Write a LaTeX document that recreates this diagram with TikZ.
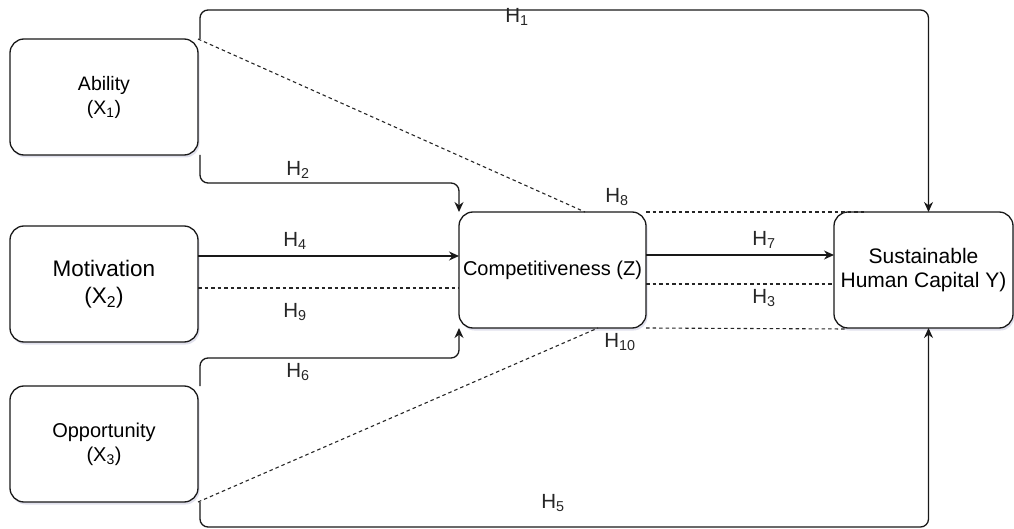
\documentclass[tikz,border=0pt]{standalone}
\usepackage{fontspec}
\setmainfont{Liberation Sans}
\usetikzlibrary{calc,arrows.meta,shadows}
\begin{document}
\begin{tikzpicture}[x=1pt,y=-1pt,
  box/.style={draw=black!90, line width=1.3pt, rounded corners=14pt, fill=white,
    minimum width=188pt, minimum height=116pt, inner sep=0pt, outer sep=0pt,
    align=center, drop shadow={opacity=0.12, shadow xshift=1.5pt, shadow yshift=-2.5pt, fill=blue!40!black}},
  arr/.style={draw=black!90, line width=1.3pt, -{Stealth[length=10pt,width=9pt]}},
  conn/.style={draw=black!90, line width=1.3pt, rounded corners=8pt},
  dsh/.style={draw=black!85, line width=1.1pt, dash pattern=on 3.5pt off 3pt},
  hlab/.style={font=\fontsize{20.5}{22}\selectfont, inner sep=0pt, text=black!85}
]
\useasboundingbox (0,0) rectangle (1014,529);

\node[box, font=\fontsize{19.5}{24}\selectfont] (A) at (104,97) {Ability\\(X\textsubscript{1})};
\node[box, font=\fontsize{22.5}{27}\selectfont] (M) at (104,284) {Motivation\\(X\textsubscript{2})};
\node[box, font=\fontsize{20}{24}\selectfont] (O) at (104,444) {Opportunity\\(X\textsubscript{3})};
\node[box, minimum width=187pt, font=\fontsize{20}{24}\selectfont] (C) at (552.5,270) {Competitiveness (Z)};
\node[box, minimum width=179pt, font=\fontsize{21}{24.5}\selectfont] (S) at (923.5,270) {Sustainable\\Human Capital Y)};

% dashed connectors
\coordinate (c8) at (585,212);
\coordinate (e8) at (867,212);
\coordinate (c10) at (598,328);
\coordinate (e10) at (847,329);
\draw[dsh] (A.north east) -- (c8);
\draw[dsh] (C.north east) -- (e8);
\draw[dsh] (O.south east) -- (c10);
\draw[dsh] (C.south east) -- (e10);
\draw[dsh] (M.east |- 0,288) -- (C.west |- 0,288);
\draw[dsh] (C.east |- 0,284) -- (S.west |- 0,284);

% solid connectors
\draw[conn, arr] ([xshift=2pt]A.north east) -- ++(0,-29) -| ([xshift=5pt]S.north);
\draw[conn, arr] ([xshift=2pt]A.south east) -- ++(0,28) -| (C.north west);
\draw[arr] (M.east |- 0,256) -- (C.west |- 0,256);
\draw[arr] (C.east |- 0,255) -- (S.west |- 0,255);
\draw[conn, arr] ([xshift=2pt]O.north east) -- ++(0,-28) -| (C.south west);
\draw[conn, arr] ([xshift=2pt]O.south east) -- ++(0,25) -| ([xshift=5pt]S.south);

% labels
\node[hlab] (h1) at (517,17) {H\textsubscript{1}};
\node[hlab] (h2) at (298,170) {H\textsubscript{2}};
\node[hlab] (h8) at (617,197) {H\textsubscript{8}};
\node[hlab] (h4) at (295,241) {H\textsubscript{4}};
\node[hlab] (h9) at (295,312) {H\textsubscript{9}};
\node[hlab] (h7) at (764,240) {H\textsubscript{7}};
\node[hlab] (h3) at (764,298) {H\textsubscript{3}};
\node[hlab] (h10) at (620,342) {H\textsubscript{10}};
\node[hlab] (h6) at (298,372) {H\textsubscript{6}};
\node[hlab] (h5) at (553,503) {H\textsubscript{5}};
\end{tikzpicture}
\end{document}
